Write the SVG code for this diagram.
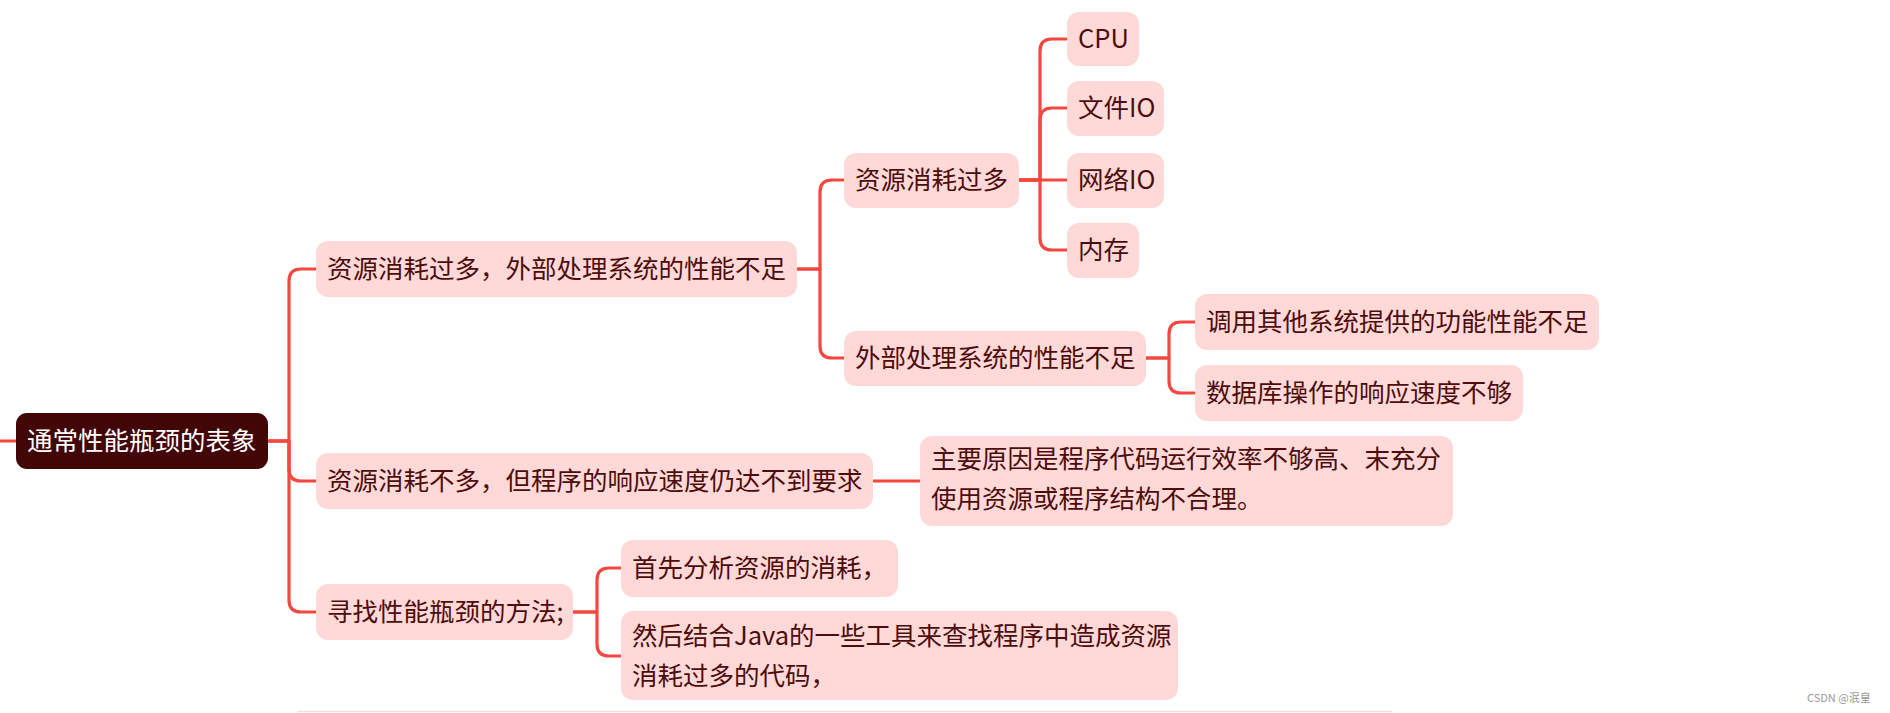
<svg xmlns="http://www.w3.org/2000/svg" width="1890" height="713" viewBox="0 0 1890 713">
<style>
.n{fill:#ffd9d7}
.r{fill:#420606}
.t{font-family:"Noto Sans CJK SC","Microsoft YaHei",sans-serif;font-size:25.5px;fill:#4e0c0c}
.rt{font-family:"Noto Sans CJK SC","Microsoft YaHei",sans-serif;font-size:25.5px;fill:#ffffff}
.c{fill:none;stroke:#f4473f;stroke-width:3.2;stroke-linecap:round;stroke-linejoin:round}
</style>
<rect width="1890" height="713" fill="#ffffff"/>
<g id="connectors">
<path class="c" d="M0,441 H16"/>
<path class="c" d="M268,441 H289 V281 Q289,269 301,269 H316"/>
<path class="c" d="M268,441 H289 V469 Q289,481 301,481 H316"/>
<path class="c" d="M268,441 H289 V600 Q289,612 301,612 H316"/>
<path class="c" d="M797,269 H820 V192 Q820,180 832,180 H844"/>
<path class="c" d="M797,269 H820 V346 Q820,358 832,358 H844"/>
<path class="c" d="M1019,180 H1040 V51 Q1040,39 1052,39 H1067"/>
<path class="c" d="M1019,180 H1040 V120 Q1040,108 1052,108 H1067"/>
<path class="c" d="M1019,180 H1067"/>
<path class="c" d="M1019,180 H1040 V238 Q1040,250 1052,250 H1067"/>
<path class="c" d="M1146,358 H1169 V334 Q1169,322 1181,322 H1195"/>
<path class="c" d="M1146,358 H1169 V381 Q1169,393 1181,393 H1195"/>
<path class="c" d="M873,481 H920"/>
<path class="c" d="M573,612 H597 V580 Q597,568 609,568 H621"/>
<path class="c" d="M573,612 H597 V644 Q597,656 609,656 H621"/>
</g>
<g id="root">
<rect class="r" x="16" y="413" width="252" height="56" rx="11"/>
<text class="rt" x="27" y="450">通常性能瓶颈的表象</text>
</g>
<g id="nA">
<rect class="n" x="316" y="241" width="481" height="56" rx="12"/>
<text class="t" x="327" y="278">资源消耗过多，外部处理系统的性能不足</text>
</g>
<g id="nB">
<rect class="n" x="316" y="453" width="557" height="56" rx="12"/>
<text class="t" x="327" y="490">资源消耗不多，但程序的响应速度仍达不到要求</text>
</g>
<g id="nC">
<rect class="n" x="316" y="584" width="257" height="56" rx="12"/>
<text class="t" x="327" y="621">寻找性能瓶颈的方法;</text>
</g>
<g id="nA1">
<rect class="n" x="844" y="153" width="175" height="55" rx="12"/>
<text class="t" x="855" y="189">资源消耗过多</text>
</g>
<g id="nA2">
<rect class="n" x="844" y="331" width="302" height="55" rx="12"/>
<text class="t" x="855" y="367">外部处理系统的性能不足</text>
</g>
<g id="nCPU">
<rect class="n" x="1067" y="12" width="72" height="54" rx="12"/>
<text class="t" x="1078" y="48">CPU</text>
</g>
<g id="nFileIO">
<rect class="n" x="1067" y="81" width="97" height="55" rx="12"/>
<text class="t" x="1078" y="117">文件IO</text>
</g>
<g id="nNetIO">
<rect class="n" x="1067" y="153" width="97" height="55" rx="12"/>
<text class="t" x="1078" y="189">网络IO</text>
</g>
<g id="nMem">
<rect class="n" x="1067" y="223" width="72" height="55" rx="12"/>
<text class="t" x="1078" y="259">内存</text>
</g>
<g id="nA21">
<rect class="n" x="1195" y="294" width="404" height="56" rx="12"/>
<text class="t" x="1206" y="331">调用其他系统提供的功能性能不足</text>
</g>
<g id="nA22">
<rect class="n" x="1195" y="365" width="328" height="56" rx="12"/>
<text class="t" x="1206" y="402">数据库操作的响应速度不够</text>
</g>
<g id="nB1">
<rect class="n" x="920" y="436" width="533" height="90" rx="12"/>
<text class="t" x="931" y="468">主要原因是程序代码运行效率不够高、末充分</text>
<text class="t" x="931" y="508">使用资源或程序结构不合理。</text>
</g>
<g id="nC1">
<rect class="n" x="621" y="540" width="277" height="57" rx="12"/>
<text class="t" x="632" y="577">首先分析资源的消耗，</text>
</g>
<g id="nC2">
<rect class="n" x="621" y="611" width="557" height="89" rx="12"/>
<text class="t" x="632" y="645">然后结合Java的一些工具来查找程序中造成资源</text>
<text class="t" x="632" y="685">消耗过多的代码，</text>
</g>
<line x1="297" y1="711.5" x2="1392" y2="711.5" stroke="#ece3e3" stroke-width="1.5"/>
<text x="1807" y="702" font-family="'Noto Sans CJK SC',sans-serif" font-size="11" fill="#999999">CSDN @泯皇</text>
</svg>
